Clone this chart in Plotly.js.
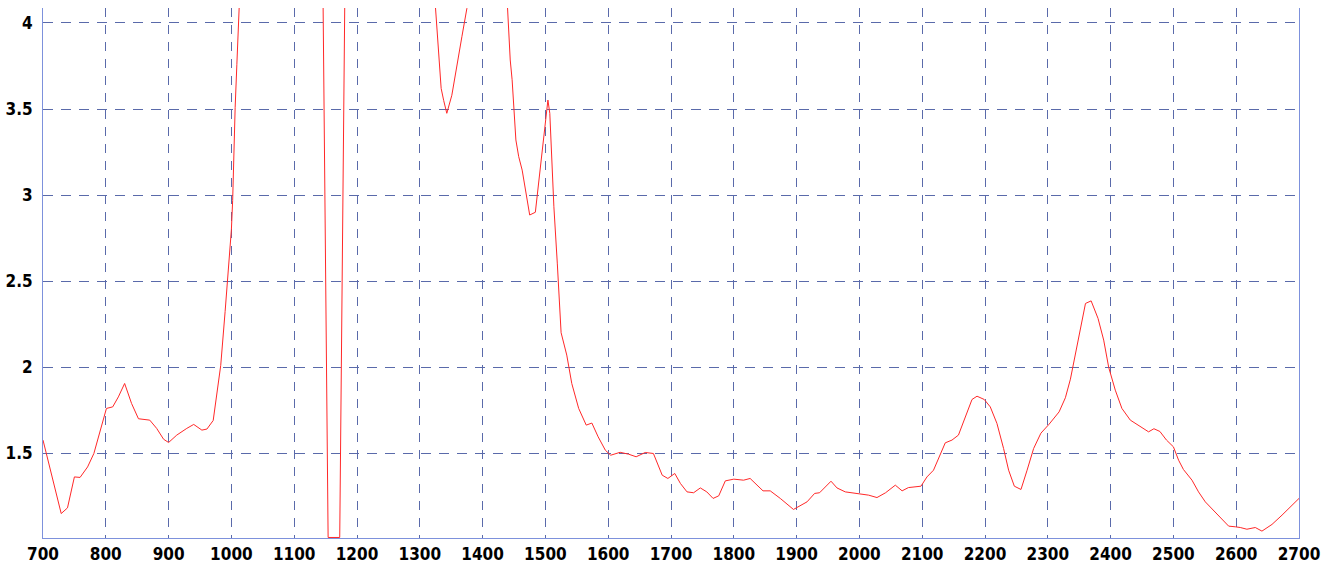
<!DOCTYPE html>
<html>
<head>
<meta charset="utf-8">
<script src="https://cdn.plot.ly/plotly-3.0.1.min.js"></script>
<style>html,body{margin:0;padding:0;background:#fff;}#chart{width:1333px;height:564px;}</style>
</head>
<body>
<div id="chart"></div>
<script>
// Wavenumber (x) values
var wavenumber = [
  700, 719, 729, 739, 750, 759, 771, 781, 796, 801, 811, 820, 830, 841, 852, 870, 881, 892, 900,
  913, 929, 940, 953, 961, 971, 977, 983, 990, 996, 1000, 1002, 1003.5, 1006, 1008.7, 1010.3, 1012.5,
  1020, 1060, 1100, 1140, 1145, 1154, 1172.5, 1181.5, 1220, 1280, 1319,
  1327, 1331, 1334, 1338, 1343, 1351, 1359, 1367, 1375, 1380, 1400, 1420, 1436,
  1444, 1447, 1453, 1457.5, 1463, 1468, 1475, 1484, 1489, 1495, 1500, 1504, 1507, 1513.5, 1519,
  1522, 1525, 1534, 1542, 1553, 1565, 1574, 1584, 1595.5, 1604, 1619, 1632.5, 1644.5, 1659, 1672,
  1686, 1695, 1706, 1715, 1725.5, 1736, 1746.7, 1757, 1767, 1776, 1786.5, 1800, 1815.6, 1826,
  1846.5, 1858, 1874, 1895, 1906, 1916.6, 1928.7, 1936.6, 1954.8, 1964.3, 1977.5, 2001.4, 2014.7,
  2028, 2041.7, 2057.2, 2068, 2078, 2098, 2107.6, 2118, 2136.7, 2147.4, 2157.7, 2179.3, 2187.3,
  2198.8, 2208.4, 2219, 2229.6, 2237.6, 2246.7, 2257.3, 2267, 2277.4, 2289, 2302, 2318, 2328, 2336,
  2342, 2352, 2360, 2369, 2380, 2389, 2397, 2407.5, 2418, 2431.4, 2444.6, 2460.5, 2469, 2478.5,
  2489, 2500, 2508.3, 2516, 2529.6, 2540, 2550.8, 2564, 2577.4, 2588, 2598.6, 2606.5, 2617, 2630.4,
  2641, 2657, 2673, 2686, 2700
];
// Absorbance (y) values (values above 4.09 run off the top of the plot)
var absorbance = [
  1.576, 1.304, 1.149, 1.182, 1.362, 1.359, 1.42, 1.498, 1.70, 1.76, 1.769, 1.827, 1.905, 1.789, 1.70, 1.692, 1.644, 1.581, 1.562,
  1.605, 1.644, 1.667, 1.634, 1.64, 1.69, 1.844, 2.01, 2.323, 2.635, 2.8, 2.969, 3.198, 3.51, 3.76, 3.948, 4.1,
  4.6, 5.2, 5.0, 4.7, 4.5, 1.01, 1.01, 4.5, 5.2, 5.0, 4.4,
  3.95, 3.75, 3.62, 3.55, 3.475, 3.58, 3.74, 3.92, 4.085, 4.25, 4.8, 4.9, 4.35,
  3.785, 3.67, 3.32, 3.223, 3.145, 3.03, 2.884, 2.90, 3.058, 3.252, 3.417, 3.552, 3.475, 2.932, 2.6,
  2.42, 2.20, 2.07, 1.905, 1.76, 1.663, 1.675, 1.595, 1.517, 1.488, 1.505, 1.494, 1.479, 1.504, 1.498,
  1.372, 1.353, 1.382, 1.324, 1.275, 1.27, 1.298, 1.275, 1.237, 1.252, 1.339, 1.349, 1.343, 1.353,
  1.281, 1.281, 1.237, 1.173, 1.198, 1.217, 1.266, 1.27, 1.337, 1.298, 1.275, 1.26, 1.256,
  1.242, 1.27, 1.314, 1.281, 1.30, 1.308, 1.362, 1.401, 1.56, 1.576, 1.605, 1.812, 1.831,
  1.812, 1.769, 1.673, 1.527, 1.401, 1.308, 1.289, 1.401, 1.527, 1.616, 1.668, 1.74, 1.822, 1.93,
  2.04, 2.234, 2.37, 2.385, 2.283, 2.157, 1.998, 1.866, 1.76, 1.692, 1.663, 1.624, 1.642, 1.626,
  1.576, 1.537, 1.459, 1.405, 1.343, 1.275, 1.217, 1.169, 1.12, 1.076, 1.072, 1.068, 1.058, 1.068,
  1.047, 1.086, 1.14, 1.188, 1.237
];
var yTickVals = [1.5, 2, 2.5, 3, 3.5, 4];
var yTickText = ['1.5', '2', '2.5', '3', '3.5', '4'];
var xTickVals = [700, 800, 900, 1000, 1100, 1200, 1300, 1400, 1500, 1600, 1700, 1800, 1900, 2000, 2100, 2200, 2300, 2400, 2500, 2600, 2700];

var tickFont = {family: '"Liberation Sans Narrow", "Arial Narrow", "DejaVu Sans Condensed", sans-serif', size: 17, color: '#000', weight: 'bold'};
var gridColor = 'rgb(90,106,170)';
var axisColor = 'rgb(125,145,220)';

var trace = {
  x: wavenumber,
  y: absorbance,
  type: 'scatter',
  mode: 'lines',
  line: {color: 'rgb(255,40,40)', width: 1},
  hoverinfo: 'x+y'
};

var layout = {
  width: 1333,
  height: 564,
  margin: {l: 43, r: 34, t: 8, b: 26, pad: 0},
  paper_bgcolor: '#ffffff',
  plot_bgcolor: '#ffffff',
  showlegend: false,
  xaxis: {
    range: [700, 2700],
    tickvals: xTickVals,
    ticktext: xTickVals.map(String),
    tickfont: tickFont,
    ticks: 'outside', ticklen: 1, tickcolor: 'rgba(0,0,0,0)',
    showgrid: true, gridcolor: gridColor, gridwidth: 1, griddash: '9px,8px',
    showline: true, linecolor: axisColor, linewidth: 1,
    zeroline: false,
    layer: 'below traces'
  },
  yaxis: {
    range: [1.007, 4.087],
    tickvals: yTickVals,
    ticktext: yTickText,
    tickfont: tickFont,
    ticks: 'outside', ticklen: 6, tickcolor: 'rgba(0,0,0,0)',
    showgrid: true, gridcolor: gridColor, gridwidth: 1, griddash: '10px,8px',
    showline: true, mirror: true, linecolor: axisColor, linewidth: 1,
    zeroline: false,
    layer: 'below traces'
  }
};

Plotly.newPlot('chart', [trace], layout, {displayModeBar: false, staticPlot: true});
</script>
</body>
</html>
